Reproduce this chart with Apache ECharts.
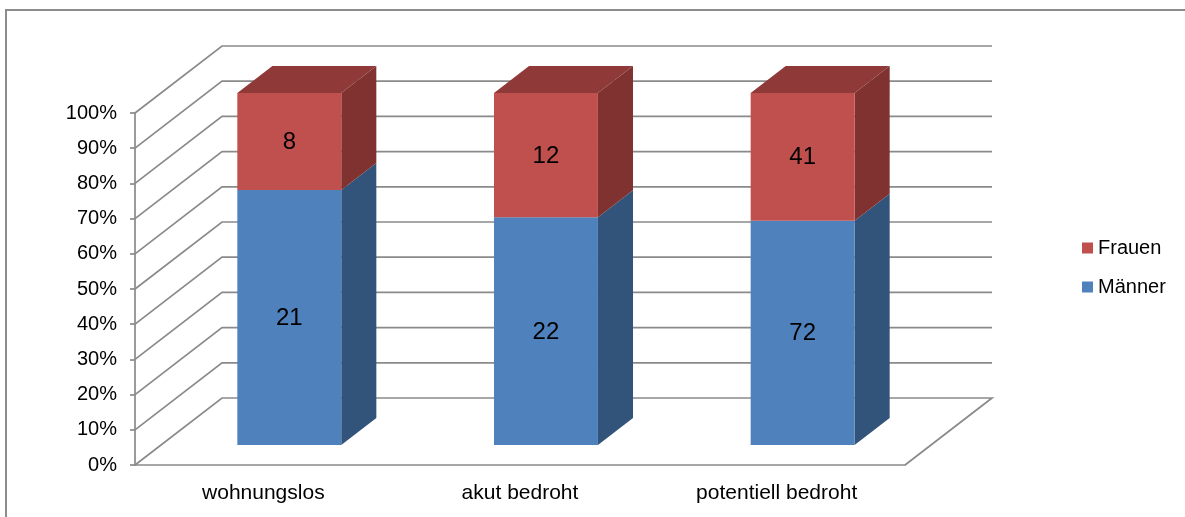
<!DOCTYPE html>
<html>
<head>
<meta charset="utf-8">
<script src="https://cdn.jsdelivr.net/npm/echarts@6/dist/echarts.min.js"></script>
<style>
  html, body { margin: 0; padding: 0; background: #fff; }
  #chart { width: 1185px; height: 517px; }
</style>
</head>
<body>
<div id="chart"></div>
<script>
// Categories and counts per group
const categories = ['wohnungslos', 'akut bedroht', 'potentiell bedroht'];
const maenner = [21, 22, 72];
const frauen = [8, 12, 41];
const yTicks = [0, 10, 20, 30, 40, 50, 60, 70, 80, 90, 100];

// Perspective offsets (pixels) for the back of the plot box and the bar depth
const DX = 87, DY = 67;
const BAR_FRONT = 20 / 67, BAR_BACK = 47 / 67;
const BAR_WIDTH = 0.405;

const FONT = '"Liberation Sans", Arial, sans-serif';
const GRID_COLOR = '#8a8a8a';

const colors = {
  'Männer': { front: '#4F81BD', side: '#32547B', top: '#3B6497' },
  'Frauen': { front: '#C0504D', side: '#7F3230', top: '#8F3A38' }
};

// Stacked shares (percent of each column) built from the counts
function stackData(own, lower) {
  return own.map((v, i) => {
    const total = maenner[i] + frauen[i];
    const split = (maenner[i] / total) * 100;
    return lower ? [i, 0, split, v] : [i, split, 100, v];
  });
}
const maennerData = stackData(maenner, true);
const frauenData = stackData(frauen, false);

// Side wall, back wall and floor outline: one bent line per y tick
function renderWalls(params, api) {
  const cs = params.coordSys;
  const x0 = cs.x, x1 = cs.x + cs.width;
  const v = api.value(1);
  const y = api.coord([0, v])[1];
  const pts = [[x0, y], [x0 + DX, y - DY], [x1 + DX, y - DY]];
  if (v === 0) pts.push([x1, y]);
  return {
    type: 'polyline',
    shape: { points: pts },
    style: { stroke: GRID_COLOR, lineWidth: 1.7, fill: null }
  };
}

// A stacked segment drawn as a box: side face, front face, optional top face
function makeBarRenderer(name, showTop) {
  const c = colors[name];
  return function (params, api) {
    const idx = api.value(0);
    const p0 = api.coord([idx, api.value(1)]);
    const p1 = api.coord([idx, api.value(2)]);
    const band = api.size([1, 0])[0];
    const w = band * BAR_WIDTH;
    const fx = DX * BAR_FRONT, fy = DY * BAR_FRONT;
    const bx = DX * BAR_BACK, by = DY * BAR_BACK;
    const left = p0[0] - w / 2 + fx, right = p0[0] + w / 2 + fx;
    const yb = p0[1] - fy, yt = p1[1] - fy;
    const sdx = bx - fx, sdy = by - fy;
    const children = [
      {
        type: 'polygon',
        shape: { points: [[right, yb], [right + sdx, yb - sdy], [right + sdx, yt - sdy], [right, yt]] },
        style: { fill: c.side }
      },
      {
        type: 'rect',
        shape: { x: left, y: yt, width: w, height: yb - yt },
        style: { fill: c.front }
      }
    ];
    if (showTop) {
      children.push({
        type: 'polygon',
        shape: { points: [[left, yt], [right, yt], [right + sdx, yt - sdy], [left + sdx, yt - sdy]] },
        style: { fill: c.top }
      });
    }
    children.push({
      type: 'text',
      style: {
        text: String(api.value(3)),
        x: (left + right) / 2,
        y: (yb + yt) / 2 + 1,
        align: 'center',
        verticalAlign: 'middle',
        fill: '#000',
        font: '24px ' + FONT
      }
    });
    return { type: 'group', children };
  };
}

const chart = echarts.init(document.getElementById('chart'), null, { renderer: 'canvas' });
chart.setOption({
  animation: false,
  backgroundColor: '#fff',
  textStyle: { fontFamily: FONT },
  graphic: [{
    type: 'rect',
    shape: { x: 6, y: 10, width: 1200, height: 530 },
    style: { fill: null, stroke: '#8c8c8c', lineWidth: 2 },
    silent: true
  }],
  grid: { left: 135, top: 113, width: 770, height: 352 },
  legend: {
    orient: 'vertical',
    left: 1077,
    top: 233,
    itemWidth: 11,
    itemHeight: 11,
    itemGap: 19,
    icon: 'rect',
    data: ['Frauen', 'Männer'],
    textStyle: { fontSize: 20, color: '#000', fontFamily: FONT }
  },
  xAxis: {
    type: 'category',
    data: categories,
    axisLine: { lineStyle: { color: GRID_COLOR, width: 1.7 } },
    axisTick: { length: 5, lineStyle: { color: GRID_COLOR, width: 1.7 } },
    axisLabel: { color: '#000', fontSize: 21, margin: 18, fontFamily: FONT },
    splitLine: { show: false }
  },
  yAxis: {
    type: 'value',
    min: 0,
    max: 100,
    interval: 10,
    axisLine: { show: true, lineStyle: { color: GRID_COLOR, width: 1.7 } },
    axisTick: { show: true, length: 5, lineStyle: { color: GRID_COLOR, width: 1.7 } },
    axisLabel: { color: '#000', fontSize: 20, margin: 18, formatter: '{value}%', fontFamily: FONT },
    splitLine: { show: false }
  },
  series: [
    {
      type: 'custom',
      name: 'walls',
      z: 1,
      silent: true,
      renderItem: renderWalls,
      encode: { x: 0, y: 1 },
      data: yTicks.map(t => [0, t])
    },
    {
      type: 'custom',
      name: 'Männer',
      z: 3,
      itemStyle: { color: colors['Männer'].front },
      renderItem: makeBarRenderer('Männer', false),
      encode: { x: 0, y: [1, 2] },
      data: maennerData
    },
    {
      type: 'custom',
      name: 'Frauen',
      z: 4,
      itemStyle: { color: colors['Frauen'].front },
      renderItem: makeBarRenderer('Frauen', true),
      encode: { x: 0, y: [1, 2] },
      data: frauenData
    }
  ]
});
</script>
</body>
</html>
